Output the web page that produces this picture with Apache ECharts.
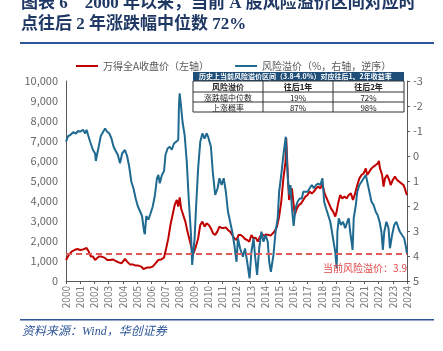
<!DOCTYPE html>
<html>
<head>
<meta charset="utf-8">
<script src="https://cdn.jsdelivr.net/npm/echarts@6/dist/echarts.min.js"></script>
<style>
  html, body { margin: 0; padding: 0; background: #fff; }
  #chart { width: 443px; height: 351px; }
</style>
</head>
<body>
<div id="chart"></div>
<script>
// 万得全A收盘价（左轴）
var priceYears = [2000.0, 2000.2, 2000.4, 2000.6, 2000.8, 2001.0, 2001.2, 2001.45, 2001.6, 2001.75, 2001.9,
    2002.05, 2002.3, 2002.5, 2002.7, 2002.9, 2003.1, 2003.3, 2003.5, 2003.7, 2003.9, 2004.15, 2004.3, 2004.5,
    2004.7, 2004.9, 2005.1, 2005.3, 2005.45, 2005.7, 2005.9, 2006.1, 2006.3, 2006.5, 2006.7, 2006.9, 2007.05,
    2007.2, 2007.35, 2007.5, 2007.65, 2007.8, 2007.9, 2008.0, 2008.1, 2008.25, 2008.4, 2008.55, 2008.7, 2008.85,
    2008.95, 2009.1, 2009.3, 2009.45, 2009.6, 2009.75, 2009.9, 2010.05, 2010.2, 2010.35, 2010.5, 2010.65, 2010.8,
    2010.95, 2011.1, 2011.25, 2011.4, 2011.55, 2011.7, 2011.85, 2012.0, 2012.15, 2012.3, 2012.45, 2012.6, 2012.75,
    2012.9, 2013.05, 2013.2, 2013.35, 2013.5, 2013.65, 2013.8, 2013.95, 2014.1, 2014.25, 2014.4, 2014.55, 2014.7,
    2014.85, 2015.0, 2015.15, 2015.3, 2015.45, 2015.5, 2015.55, 2015.62, 2015.7, 2015.8, 2015.9, 2016.0, 2016.1,
    2016.25, 2016.4, 2016.55, 2016.7, 2016.85, 2017.0, 2017.15, 2017.3, 2017.45, 2017.6, 2017.75, 2017.9, 2018.05,
    2018.2, 2018.35, 2018.5, 2018.65, 2018.8, 2018.95, 2019.05, 2019.15, 2019.3, 2019.45, 2019.6, 2019.75, 2019.9,
    2020.05, 2020.2, 2020.35, 2020.5, 2020.65, 2020.8, 2020.95, 2021.1, 2021.2, 2021.35, 2021.5, 2021.65, 2021.8,
    2021.95, 2022.02, 2022.1, 2022.25, 2022.35, 2022.45, 2022.6, 2022.75, 2022.85, 2023.0, 2023.15, 2023.3,
    2023.45, 2023.6, 2023.75, 2023.85, 2023.95, 2024.0];
var priceValues = [1050, 1300, 1470, 1550, 1600, 1550, 1580, 1650, 1470, 1220, 1220,
    1050, 1220, 1220, 1170, 1050, 1050, 1080, 1000, 930, 880, 1100, 970, 830,
    830, 770, 770, 720, 600, 670, 670, 720, 880, 1050, 1080, 1170, 1630,
    2130, 2800, 3300, 3800, 4050, 3720, 4180, 3630, 3300, 2970, 2470, 2050, 1630,
    1350, 1630, 2130, 2800, 2970, 2720, 2880, 2800, 2630, 2380, 2300, 2470, 2720,
    2650, 2650, 2680, 2550, 2470, 2300, 2130, 2050, 2300, 2300, 2220, 2100, 2050,
    1970, 2300, 2130, 2170, 1970, 2220, 2330, 2270, 2330, 2300, 2270, 2380, 2500,
    2720, 3220, 3970, 5130, 5970, 7150, 6300, 5130, 4050, 4300, 4630, 3970, 3300,
    3630, 3800, 3880, 4050, 4220, 4300, 4470, 4380, 4470, 4630, 4720, 4630, 4850,
    4380, 4130, 3880, 3630, 3470, 3220, 3470, 3880, 4300, 4130, 4220, 4130, 4300,
    4380, 4050, 4380, 4800, 5130, 5300, 5380, 5630, 5300, 5470, 5630, 5720, 5800,
    5880, 6000, 5630, 5300, 4720, 5130, 5300, 5050, 4800, 5050, 5220, 5050,
    4970, 4880, 4800, 4630, 4380, 4300];

// 风险溢价（%，右轴，逆序）
var erpYears = [2000.0, 2000.15, 2000.3, 2000.5, 2000.7, 2000.85, 2001.0, 2001.2, 2001.35, 2001.45, 2001.55,
    2001.7, 2001.9, 2002.05, 2002.1, 2002.2, 2002.3, 2002.45, 2002.6, 2002.75, 2002.9, 2003.05, 2003.2, 2003.35,
    2003.5, 2003.65, 2003.8, 2003.95, 2004.15, 2004.3, 2004.45, 2004.6, 2004.75, 2004.9, 2005.05, 2005.2, 2005.35,
    2005.5, 2005.55, 2005.65, 2005.8, 2005.95, 2006.1, 2006.25, 2006.4, 2006.5, 2006.6, 2006.75, 2006.9, 2007.0,
    2007.15, 2007.3, 2007.45, 2007.6, 2007.75, 2007.9, 2007.95, 2008.0, 2008.08, 2008.2, 2008.35, 2008.5, 2008.65,
    2008.8, 2008.88, 2008.95, 2009.05, 2009.15, 2009.3, 2009.45, 2009.6, 2009.75, 2009.9, 2010.0, 2010.2, 2010.33,
    2010.5, 2010.67, 2010.8, 2010.95, 2011.1, 2011.25, 2011.4, 2011.5, 2011.7, 2011.85, 2012.0, 2012.1, 2012.25,
    2012.45, 2012.6, 2012.75, 2012.92, 2013.05, 2013.2, 2013.3, 2013.45, 2013.6, 2013.75, 2013.9, 2014.05, 2014.2,
    2014.3, 2014.42, 2014.6, 2014.75, 2014.9, 2015.0, 2015.15, 2015.3, 2015.47, 2015.55, 2015.63, 2015.72, 2015.8,
    2015.9, 2016.02, 2016.15, 2016.3, 2016.45, 2016.6, 2016.7, 2016.85, 2017.0, 2017.15, 2017.3, 2017.45, 2017.6,
    2017.75, 2017.9, 2018.05, 2018.17, 2018.3, 2018.45, 2018.6, 2018.72, 2018.83, 2018.95, 2019.05, 2019.1, 2019.2,
    2019.35, 2019.5, 2019.65, 2019.8, 2019.9, 2020.0, 2020.1, 2020.17, 2020.25, 2020.4, 2020.5, 2020.65, 2020.8,
    2020.95, 2021.1, 2021.25, 2021.4, 2021.5, 2021.65, 2021.8, 2021.93, 2022.07, 2022.2, 2022.3, 2022.4, 2022.55,
    2022.7, 2022.8, 2022.95, 2023.1, 2023.25, 2023.4, 2023.5, 2023.65, 2023.8, 2023.9, 2024.0];
var erpValues = [-0.57, -0.8, -0.84, -0.95, -0.9, -1.0, -0.97, -1.05, -0.9, -1.05, -0.85,
    -0.57, -0.24, -0.1, 0.2, -0.1, -0.37, -0.8, -0.95, -1.1, -0.97, -0.9, -0.7, -0.37,
    -0.2, -0.04, 0.29, -0.1, -0.24, 0.0, 0.43, 1.03, 1.3, 1.69, 2.0, 2.2, 2.4,
    3.03, 3.13, 2.4, 2.55, 2.3, 2.03, 1.6, 0.9, 0.76, 1.09, 0.76, 0.6, -0.04,
    -0.3, -0.37, -0.25, -0.5, -0.57, -0.64, -2.0, -2.51, -2.1, -1.37, -0.84, 0.23, 1.83,
    3.16, 4.36, 3.9, 3.3, 2.09, 0.49, -0.57, -0.9, -0.7, -0.9, -0.77, -0.37, 0.63,
    1.56, 1.29, 0.89, 1.16, 0.89, 1.43, 2.23, 2.49, 3.03, 3.56, 4.23, 3.29, 3.69,
    4.03, 3.7, 4.23, 4.89, 3.83, 3.29, 3.96, 4.76, 3.69, 3.03, 3.43, 3.16, 3.43,
    4.23, 4.63, 3.96, 3.03, 2.49, 1.43, 0.76, -0.04, -0.77, 0.23, 1.03, 1.56, 1.16,
    2.09, 2.8, 2.09, 1.83, 1.7, 1.7, 1.43, 1.43, 1.43, 1.29, 1.16, 1.29, 1.16,
    1.1, 1.16, 0.89, 1.83, 2.09, 2.36, 2.63, 3.03, 3.43, 3.83, 4.49, 3.03, 2.49,
    2.76, 2.63, 2.89, 2.63, 2.49, 3.03, 3.43, 3.76, 2.49, 1.96, 1.43, 1.16, 1.03,
    0.89, 0.76, 1.16, 1.56, 1.83, 1.96, 2.23, 2.36, 2.63, 3.03, 3.76, 3.03, 2.63,
    2.89, 3.69, 3.16, 2.76, 2.63, 2.89, 3.03, 3.16, 3.29, 3.56, 3.9];

var currentErp = 3.9;

// 插图表格
var tableTitle = '历史上当前风险溢价区间（3.8-4.0%）对应往后1、2年收益率';
var tableRows = [
    ['风险溢价', '往后1年', '往后2年'],
    ['涨跌幅中位数', '19%', '72%'],
    ['上涨概率', '87%', '98%']
];

var pair = function (xs, ys) {
    var res = [];
    for (var i = 0; i < xs.length; i++) res.push([xs[i], ys[i]]);
    return res;
};

var cjk = '"Noto Sans CJK SC", sans-serif';
var serif = '"Liberation Serif", "Noto Sans CJK SC", serif';
var navy = '#1f3864';
var ruleBlue = '#2e5597';

// 表格图形
var tableGraphics = function () {
    var x0 = 193, y0 = 72, colX = [193, 263, 333, 404], rowY = [81, 92, 102, 112];
    var g = [];
    g.push({type: 'rect', shape: {x: x0, y: y0, width: colX[3] - x0, height: rowY[0] - y0},
        style: {fill: '#1f4e79'}, z: 100});
    g.push({type: 'text', x: x0 + 6, y: y0 + 4.5,
        style: {text: tableTitle, fill: '#fff', font: 'bold 7px ' + cjk, verticalAlign: 'middle'}, z: 101});
    g.push({type: 'rect', shape: {x: x0, y: rowY[0], width: colX[3] - x0, height: rowY[3] - rowY[0]},
        style: {fill: '#fff', stroke: '#333', lineWidth: 1}, z: 100});
    for (var r = 1; r < 3; r++) {
        g.push({type: 'line', shape: {x1: x0, y1: rowY[r], x2: colX[3], y2: rowY[r]},
            style: {stroke: '#333', lineWidth: 1}, z: 101});
    }
    for (var c = 1; c < 3; c++) {
        g.push({type: 'line', shape: {x1: colX[c], y1: rowY[0], x2: colX[c], y2: rowY[3]},
            style: {stroke: '#333', lineWidth: 1}, z: 101});
    }
    for (var i = 0; i < tableRows.length; i++) {
        for (var j = 0; j < 3; j++) {
            g.push({type: 'text', x: (colX[j] + colX[j + 1]) / 2, y: (rowY[i] + rowY[i + 1]) / 2 + 0.5,
                style: {text: tableRows[i][j], fill: '#222', align: 'center', verticalAlign: 'middle',
                    font: (i === 0 ? 'bold ' : '') + '8px ' + cjk}, z: 102});
        }
    }
    return g;
};

var chart = echarts.init(document.getElementById('chart'));
var option = {
    animation: false,
    textStyle: {fontFamily: cjk},
    grid: {left: 66, right: 36, top: 81, bottom: 70},
    legend: {
        left: 71, top: 56, itemGap: 26, itemWidth: 22, itemHeight: 2, icon: 'rect',
        textStyle: {fontSize: 10, color: '#595959', fontFamily: cjk},
        data: ['万得全A收盘价（左轴）', '风险溢价（%，右轴，逆序）']
    },
    xAxis: {
        type: 'value', min: 2000, max: 2024, interval: 1,
        axisLine: {show: true, lineStyle: {color: '#595959'}},
        axisTick: {show: true, length: 3, lineStyle: {color: '#595959'}},
        splitLine: {show: false},
        axisLabel: {rotate: 90, fontSize: 10, color: '#777', margin: 5,
            showMinLabel: true, showMaxLabel: true, formatter: function (v) { return String(v); }}
    },
    yAxis: [
        {
            type: 'value', min: 0, max: 10000, interval: 1000, position: 'left',
            axisLine: {show: true, lineStyle: {color: '#595959'}},
            axisTick: {show: false},
            splitLine: {show: false},
            axisLabel: {fontSize: 11, color: '#666', margin: 8}
        },
        {
            type: 'value', min: -3, max: 5, interval: 1, inverse: true, position: 'right',
            axisLine: {show: true, lineStyle: {color: '#595959'}},
            axisTick: {show: true, length: 3, lineStyle: {color: '#595959'}},
            splitLine: {show: false},
            axisLabel: {fontSize: 11, color: '#666', margin: 6}
        }
    ],
    series: [
        {
            name: '万得全A收盘价（左轴）', type: 'line', yAxisIndex: 0, showSymbol: false,
            data: pair(priceYears, priceValues), z: 3,
            itemStyle: {color: '#c00000'}, lineStyle: {color: '#c00000', width: 2}
        },
        {
            name: '风险溢价（%，右轴，逆序）', type: 'line', yAxisIndex: 1, showSymbol: false,
            data: pair(erpYears, erpValues), z: 4,
            itemStyle: {color: '#1f6a91'}, lineStyle: {color: '#1f6a91', width: 2},
            markLine: {
                symbol: 'none', silent: true,
                lineStyle: {color: '#e05a5a', type: [6, 4], width: 2},
                label: {position: 'insideEndBottom', distance: [0, 10], color: '#e04848', fontSize: 10,
                    formatter: '当前风险溢价：' + currentErp},
                data: [{yAxis: currentErp}]
            }
        }
    ],
    graphic: [
        {type: 'text', left: 21, top: -5,
            style: {text: '图表 6　2000 年以来，当前 A 股风险溢价区间对应时', fill: navy, font: 'bold 17px ' + serif}},
        {type: 'text', left: 21, top: 16,
            style: {text: '点往后 2 年涨跌幅中位数 72%', fill: navy, font: 'bold 17px ' + serif}},
        {type: 'rect', shape: {x: 20, y: 42, width: 414, height: 2}, style: {fill: ruleBlue}},
        {type: 'rect', shape: {x: 20, y: 319, width: 414, height: 1.5}, style: {fill: ruleBlue}},
        {type: 'text', left: 22, top: 326,
            style: {text: '资料来源：Wind，华创证券', fill: ruleBlue, font: 'italic 12px ' + serif}}
    ].concat(tableGraphics())
};
chart.setOption(option);
</script>
</body>
</html>
